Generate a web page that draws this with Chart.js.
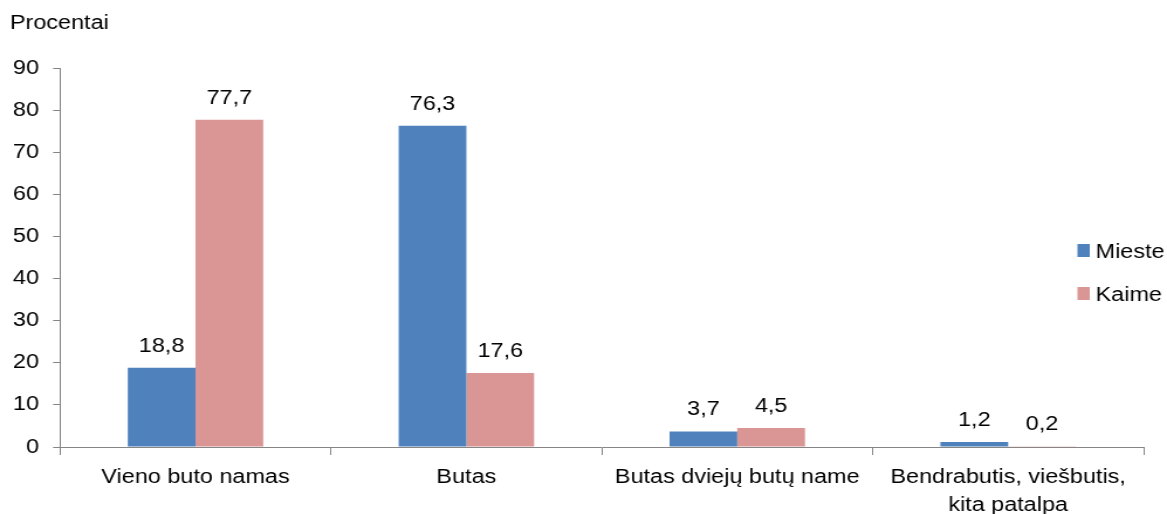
<!DOCTYPE html>
<html lang="lt">
<head>
<meta charset="utf-8">
<title>Procentai</title>
<script src="https://cdn.jsdelivr.net/npm/chart.js@4.4.1/dist/chart.umd.min.js"></script>
<style>
  html, body { margin: 0; padding: 0; background: #fff; overflow: hidden; }
  #wrap { width: 1167px; height: 514px; overflow: hidden; }
  /* the reference is stretched sideways, so the canvas is too */
  #chart { display: block; transform: scaleX(1.1705); transform-origin: 0 0; }
</style>
</head>
<body>
<div id="wrap"><canvas id="chart" width="997" height="514"></canvas></div>
<script>
var categories = ['Vieno buto namas', 'Butas', 'Butas dviejų butų name', ['Bendrabutis, viešbutis,', 'kita patalpa']];
var miesteValues = [18.8, 76.3, 3.7, 1.2];
var kaimeValues = [77.7, 17.6, 4.5, 0.2];
var seriesNames = ['Mieste', 'Kaime'];
var yMin = 0;
var yMax = 90;
var yStep = 10;
var axisTitle = 'Procentai';

(function () {
  var blue = '#4F81BD';
  var pink = '#D99694';
  var axisGrey = '#868686';
  var fontFamily = '"Liberation Sans", Arial, sans-serif';

  function fmt(v) {
    return v.toFixed(1).replace('.', ',');
  }

  var valueLabels = {
    id: 'valueLabels',
    afterDatasetsDraw: function (chart) {
      var ctx = chart.ctx;
      ctx.save();
      ctx.font = '20px ' + fontFamily;
      ctx.fillStyle = '#000';
      ctx.textAlign = 'center';
      ctx.textBaseline = 'alphabetic';
      chart.data.datasets.forEach(function (ds, i) {
        chart.getDatasetMeta(i).data.forEach(function (bar, j) {
          ctx.fillText(fmt(ds.data[j]), bar.x, bar.y - 16);
        });
      });
      ctx.restore();
    }
  };

  var sideLegend = {
    id: 'sideLegend',
    afterDraw: function (chart) {
      var ctx = chart.ctx;
      ctx.save();
      ctx.font = '20px ' + fontFamily;
      ctx.textBaseline = 'alphabetic';
      ctx.textAlign = 'left';
      ctx.fillStyle = '#000';
      ctx.fillText(axisTitle, 8.5, 29);
      chart.data.datasets.forEach(function (ds, i) {
        var top = 244 + i * 43;
        ctx.fillStyle = ds.backgroundColor;
        ctx.fillRect(920.5, top, 10.5, 13);
        ctx.fillStyle = '#000';
        ctx.fillText(ds.label, 936, top + 13.5);
      });
      ctx.restore();
    }
  };

  new Chart(document.getElementById('chart').getContext('2d'), {
    type: 'bar',
    data: {
      labels: categories,
      datasets: [
        { label: seriesNames[0], data: miesteValues, backgroundColor: blue },
        { label: seriesNames[1], data: kaimeValues, backgroundColor: pink }
      ]
    },
    options: {
      responsive: false,
      animation: false,
      devicePixelRatio: 1,
      layout: { padding: { left: 0, right: 20, top: 68, bottom: 0 } },
      datasets: { bar: { categoryPercentage: 0.5, barPercentage: 1.0, borderWidth: 0 } },
      plugins: { legend: { display: false }, tooltip: { enabled: false } },
      scales: {
        x: {
          offset: true,
          grid: { display: true, drawOnChartArea: false, drawTicks: true, tickLength: 8, color: axisGrey, offset: true },
          border: { display: true, color: axisGrey, width: 1 },
          ticks: { color: '#000', font: { family: fontFamily, size: 20, lineHeight: 1.4 }, padding: 8, maxRotation: 0, autoSkip: false },
          afterFit: function (scale) { scale.height = 67; }
        },
        y: {
          min: yMin,
          max: yMax,
          grid: { display: true, drawOnChartArea: false, drawTicks: true, tickLength: 6, color: axisGrey },
          border: { display: true, color: axisGrey, width: 1 },
          ticks: { stepSize: yStep, color: '#000', font: { family: fontFamily, size: 20 }, padding: 12 },
          afterFit: function (scale) { scale.width = 51.3; }
        }
      }
    },
    plugins: [valueLabels, sideLegend]
  });
})();
</script>
</body>
</html>
